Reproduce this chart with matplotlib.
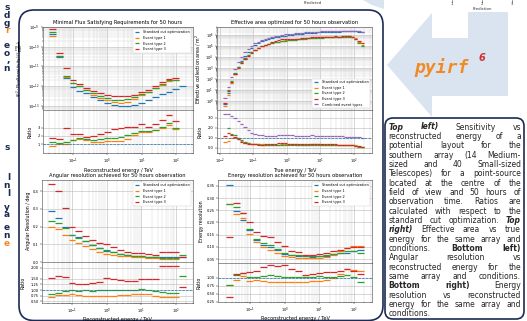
import numpy as np
import matplotlib
matplotlib.use("Agg")
import matplotlib.pyplot as plt
from matplotlib.patches import FancyBboxPatch, Polygon
from matplotlib.ticker import FixedLocator, FormatStrFormatter, LogLocator, NullFormatter

W, H = 527, 321

# log10(E / TeV) bin edges
reco_edges = np.round(np.linspace(-1.7, 2.3, 21), 2)
true_edges = np.round(np.linspace(-1.9, 2.3, 43), 2)

labels = ["Standard cut optimization", "Event type 1", "Event type 2", "Event type 3"]
label_comb = "Combined event types"
nan = np.nan

# sensitivity, log10(E^2 F / erg cm^-2 s^-1)
sens_std = [-9.35, -10.50, -11.58, -12.04, -12.24, -12.38, -12.55, -12.72, -12.86, -12.95,
            -13.00, -13.00, -12.96, -12.84, -12.70, -12.56, -12.42, -12.28, -12.16, -12.02]
sens_t1 = [-9.45, -10.48, -11.56, -11.87, -12.02, -12.20, -12.45, -12.62, -12.72, -12.82,
           -12.85, -12.80, -12.64, -12.45, -12.30, -12.12, -11.95, -11.75, -11.70, nan]
sens_t2 = [-9.25, -10.45, -11.50, -11.85, -12.00, -12.18, -12.38, -12.52, -12.62, -12.70,
           -12.72, -12.68, -12.58, -12.42, -12.28, -12.12, -11.92, -11.72, -11.68, nan]
sens_t3 = [-9.10, -10.30, -11.10, -11.70, -11.90, -12.12, -12.26, -12.38, -12.46, -12.50,
           -12.52, -12.50, -12.46, -12.30, -12.20, -12.02, -11.82, -11.62, -11.58, nan]

# effective area, log10(A / m^2)
aeff_std = [-0.25, 0.70, 1.65, 2.45, 3.10, 3.65, 4.10, 4.50, 4.82, 5.08,
            5.28, 5.43, 5.55, 5.64, 5.72, 5.79, 5.85, 5.90, 5.95, 5.99,
            6.03, 6.06, 6.09, 6.12, 6.15, 6.17, 6.19, 6.21, 6.23, 6.25,
            6.27, 6.28, 6.30, 6.31, 6.32, 6.33, 6.34, 6.35, 6.35, 6.34,
            6.32, 6.30]
aeff_t1 = [-0.47, 0.55, 1.65, 2.47, 3.05, 3.50, 3.84, 4.17, 4.44, 4.67,
           4.85, 4.99, 5.09, 5.18, 5.26, 5.33, 5.39, 5.46, 5.51, 5.55,
           5.59, 5.62, 5.63, 5.66, 5.69, 5.71, 5.75, 5.77, 5.79, 5.79,
           5.81, 5.82, 5.84, 5.85, 5.86, 5.86, 5.87, 5.87, 5.86, 5.74,
           5.40, 5.08]
aeff_t2 = [nan, 1.00, 1.81, 2.56, 3.12, 3.55, 3.89, 4.20, 4.46, 4.68,
           4.85, 4.97, 5.08, 5.17, 5.26, 5.33, 5.38, 5.43, 5.49, 5.53,
           5.57, 5.59, 5.61, 5.64, 5.68, 5.70, 5.72, 5.73, 5.75, 5.77,
           5.79, 5.80, 5.83, 5.84, 5.85, 5.85, 5.86, 5.86, 5.84, 5.68,
           5.32, 5.00]
aeff_t3 = [-0.17, 0.88, 1.76, 2.49, 3.03, 3.44, 3.80, 4.12, 4.40, 4.64,
           4.82, 4.97, 5.11, 5.22, 5.34, 5.44, 5.53, 5.60, 5.63, 5.64,
           5.65, 5.66, 5.67, 5.69, 5.73, 5.77, 5.81, 5.81, 5.81, 5.82,
           5.83, 5.84, 5.86, 5.87, 5.86, 5.87, 5.87, 5.87, 5.83, 5.64,
           5.50, 5.30]
aeff_comb = [0.28, 1.23, 2.16, 2.93, 3.53, 4.03, 4.42, 4.76, 5.01, 5.23,
             5.39, 5.53, 5.64, 5.72, 5.80, 5.88, 5.95, 6.01, 6.08, 6.10,
             6.13, 6.15, 6.17, 6.20, 6.23, 6.26, 6.29, 6.30, 6.31, 6.33,
             6.34, 6.35, 6.38, 6.40, 6.40, 6.40, 6.40, 6.41, 6.41, 6.39,
             6.36, 6.30]

# angular resolution / deg
angres_std = [0.286, 0.249, 0.195, 0.153, 0.140, 0.118, 0.097, 0.080, 0.064, 0.055,
              0.046, 0.040, 0.036, 0.032, 0.030, 0.028, 0.027, 0.026, 0.026, 0.026]
angres_t1 = [0.200, 0.188, 0.154, 0.126, 0.107, 0.088, 0.072, 0.058, 0.046, 0.041,
             0.035, 0.031, 0.029, 0.026, 0.024, 0.021, 0.019, 0.018, 0.018, nan]
angres_t2 = [0.233, 0.220, 0.190, 0.150, 0.136, 0.117, 0.094, 0.079, 0.065, 0.056,
             0.046, 0.040, 0.036, 0.033, 0.030, 0.027, 0.025, 0.023, 0.023, 0.042]
angres_t3 = [0.437, 0.400, 0.305, 0.200, 0.177, 0.149, 0.126, 0.107, 0.099, 0.082,
             0.066, 0.056, 0.051, 0.048, 0.045, 0.042, 0.056, 0.054, 0.054, 0.030]

# energy resolution
eres_std = [0.355, 0.246, 0.209, 0.169, 0.130, 0.109, 0.098, 0.086, 0.072, 0.066,
            0.064, 0.061, 0.060, 0.061, 0.064, 0.069, 0.073, 0.075, 0.082, 0.087]
eres_t1 = [0.275, 0.233, 0.219, 0.153, 0.122, 0.099, 0.086, 0.075, 0.062, 0.058,
           0.055, 0.054, 0.055, 0.055, 0.060, 0.068, 0.082, 0.095, 0.102, 0.105]
eres_t2 = [0.275, 0.265, 0.240, 0.175, 0.133, 0.115, 0.106, 0.091, 0.073, 0.067,
           0.065, 0.062, 0.062, 0.064, 0.066, 0.072, 0.077, 0.082, 0.085, 0.077]
eres_t3 = [0.142, 0.278, 0.240, 0.200, 0.159, 0.146, 0.139, 0.118, 0.102, 0.085,
           0.078, 0.067, 0.067, 0.070, 0.075, 0.082, 0.089, 0.095, 0.099, 0.099]

caption = [
    "*Top *left) Sensitivity vs",
    "reconstructed energy of a",
    "potential layout for the",
    "southern array (14 Medium-",
    "sized and 40 Small-sized",
    "Telescopes) for a point-source",
    "located at the centre of the",
    "field of view and 50 hours of",
    "observation time. Ratios are",
    "calculated with respect to the",
    "standard cut optimization. *Top",
    "*right) Effective area vs true",
    "energy for the same array and",
    "conditions. #Bottom #left)",
    "Angular resolution vs",
    "reconstructed energy for the",
    "same array and conditions.",
    "#Bottom #right) Energy",
    "resolution vs reconstructed",
    "energy for the same array and",
    "conditions.",
]

# line endings of the neighbouring column that is cut by the page edge
side_chars = ["s", "d", "g", "r", "e", "o", ",", "n", "s", "l", "n", "l", "y", "a", "e", "n", "e"]
side_y = [8, 15.5, 23, 30.5, 46, 53.5, 61, 68.5, 147, 178, 185.5, 193, 207, 214.5, 228, 235.5, 243]
side_orange = {3, 16}

NAVY = "#1c2b55"
colors = ["C0", "C1", "C2", "C3", "C4"]

fig = plt.figure(figsize=(W / 100, H / 100), dpi=100)
bg = fig.add_axes([0, 0, 1, 1])
bg.set_xlim(0, W)
bg.set_ylim(H, 0)
bg.axis("off")


def rect(x0, y0, x1, y1):
    return [x0 / W, 1 - y1 / H, (x1 - x0) / W, (y1 - y0) / H]


def make_panel(x0, x1, ytop, ysplit, ybot, xlim):
    ax = fig.add_axes(rect(x0, ytop, x1, ysplit))
    rax = fig.add_axes(rect(x0, ysplit, x1, ybot))
    for a in (ax, rax):
        a.set_xscale("log")
        a.set_xlim(10 ** xlim[0], 10 ** xlim[1])
        a.tick_params(which="both", labelsize=2.6, length=1.5, width=0.3, pad=1)
        a.tick_params(which="minor", length=0.8)
        for s in a.spines.values():
            s.set_linewidth(0.4)
            s.set_color("#444444")
        a.grid(which="major", color="#b8b8b8", lw=0.4)
        a.grid(which="minor", axis="x", color="#d0d0d0", lw=0.3)
        a.xaxis.set_major_locator(LogLocator(10))
    ax.tick_params(labelbottom=False)
    rax.set_ylabel("Ratio", fontsize=3.4, labelpad=3.5)
    return ax, rax


def steps(ax, edges, vals, color, label=None, lw=0.9):
    lo = 10.0 ** edges[:-1]
    hi = 10.0 ** edges[1:]
    c = np.sqrt(lo * hi)
    return ax.errorbar(c, vals, xerr=[c - lo, hi - c], ls="none", color=color,
                       elinewidth=lw, capsize=0, label=label)


def draw(ax, rax, edges, std, others, log=False, extra=None):
    std = np.asarray(std, dtype=float)
    base = 10 ** std if log else std
    steps(ax, edges, base, colors[0], labels[0])
    for i, s in enumerate(others):
        v = np.asarray(s, dtype=float)
        v = 10 ** v if log else v
        steps(ax, edges, v, colors[i + 1], labels[i + 1])
        steps(rax, edges, v / base, colors[i + 1])
    if extra is not None:
        v = 10 ** np.asarray(extra, dtype=float)
        steps(ax, edges, v, colors[4], label_comb)
        steps(rax, edges, v / base, colors[4])
    rax.axhline(1, color="C0", ls="--", lw=0.5)


def legend(ax, loc):
    leg = ax.legend(loc=loc, fontsize=2.5, handlelength=1.6, borderpad=0.5,
                    labelspacing=0.45, framealpha=1, edgecolor="#cccccc", fancybox=True)
    leg.get_frame().set_linewidth(0.3)


# top left: sensitivity
ax, rax = make_panel(43, 193, 27, 110, 153, (-1.875, 2.5))
draw(ax, rax, reco_edges, sens_std, [sens_t1, sens_t2, sens_t3], log=True)
ax.set_yscale("log")
ax.set_ylim(10 ** -13.22, 10 ** -9.0)
ax.grid(which="minor", axis="y", color="#d0d0d0", lw=0.3)
ax.set_title("Minimal Flux Satisfying Requirements for 50 hours", fontsize=3.7, pad=2)
ax.set_ylabel(r"$(E^2 \cdot \mathrm{Flux Sensitivity}) /$ ($\mathrm{\frac{erg}{s\,cm^{2}}}$)",
              fontsize=3.0, labelpad=1.5)
legend(ax, "upper right")
rax.set_ylim(-0.1, 5.2)
rax.yaxis.set_major_locator(FixedLocator([1, 2, 3]))
rax.set_xlabel("Reconstructed energy / TeV", fontsize=3.6, labelpad=1.5)

# top right: effective area
ax, rax = make_panel(217, 372, 27, 110, 153, (-2.09, 2.54))
draw(ax, rax, true_edges, aeff_std, [aeff_t1, aeff_t2, aeff_t3], log=True, extra=aeff_comb)
ax.set_yscale("log")
ax.set_ylim(10 ** -0.82, 10 ** 6.73)
ax.yaxis.set_major_locator(LogLocator(10, numticks=12))
ax.yaxis.set_minor_formatter(NullFormatter())
ax.grid(which="minor", axis="y", color="#d0d0d0", lw=0.3)
ax.set_title("Effective area optimized for 50 hours observation", fontsize=3.7, pad=2)
ax.set_ylabel(r"Effective collection area / m$^2$", fontsize=3.4, labelpad=1.5)
legend(ax, "lower right")
rax.set_ylim(-0.5, 3.8)
rax.yaxis.set_major_locator(FixedLocator([0, 1, 2, 3]))
rax.yaxis.set_major_formatter(FormatStrFormatter("%.1f"))
rax.set_xlabel("True energy / TeV", fontsize=3.6, labelpad=1.5)

# bottom left: angular resolution
ax, rax = make_panel(42, 193, 180, 262, 303, (-1.865, 2.49))
draw(ax, rax, reco_edges, angres_std, [angres_t1, angres_t2, angres_t3])
ax.set_ylim(0, 0.462)
ax.yaxis.set_major_locator(FixedLocator([0, 0.1, 0.2, 0.3, 0.4]))
ax.yaxis.set_major_formatter(FormatStrFormatter("%.1f"))
ax.set_title("Angular resolution achieved for 50 hours observation", fontsize=3.7, pad=2)
ax.set_ylabel("Angular Resolution / deg", fontsize=3.4, labelpad=1.5)
legend(ax, "upper right")
rax.set_ylim(0.42, 2.25)
rax.yaxis.set_major_locator(FixedLocator([0.5, 0.75, 1.0, 1.25, 1.5, 2.0]))
rax.yaxis.set_major_formatter(FormatStrFormatter("%.2f"))
rax.set_xlabel("Reconstructed energy / TeV", fontsize=3.6, labelpad=0.8)

# bottom right: energy resolution
ax, rax = make_panel(218, 372, 180, 263, 302, (-1.92, 2.52))
draw(ax, rax, reco_edges, eres_std, [eres_t1, eres_t2, eres_t3])
ax.set_ylim(0.034, 0.374)
ax.yaxis.set_major_locator(FixedLocator([0.05, 0.10, 0.15, 0.20, 0.25, 0.30, 0.35]))
ax.yaxis.set_major_formatter(FormatStrFormatter("%.2f"))
ax.set_title("Energy resolution achieved for 50 hours observation", fontsize=3.7, pad=2)
ax.set_ylabel("Energy resolution", fontsize=3.4, labelpad=1.5)
legend(ax, "upper right")
rax.set_ylim(0.24, 1.47)
rax.yaxis.set_major_locator(FixedLocator([0.25, 0.5, 0.75, 1.0]))
rax.yaxis.set_major_formatter(FormatStrFormatter("%.2f"))
rax.set_xlabel("Reconstructed energy / TeV", fontsize=3.6, labelpad=0.8)

# frame around the four panels
bg.add_patch(FancyBboxPatch((19, 10), 364, 310.5, boxstyle="round,pad=0,rounding_size=15",
                            fc="none", ec=NAVY, lw=1.2))

# arrow from the classifier output towards the plots
bg.add_patch(Polygon([(387, 65), (432, 13), (432, 38), (468, 38), (468, 12), (508, 12),
                      (508, 96), (432, 96), (432, 117)], closed=True, fc="#dae4f1", ec="none"))
bg.add_patch(Polygon([(363, 0), (384, 0), (384, 9), (372, 5)], closed=True, fc="#dae4f1", ec="none"))

bg.text(442, 68, "pyirf", fontsize=13, family="DejaVu Sans Mono", weight="bold",
        style="italic", color="#f28a24", ha="center", va="center")
bg.text(479, 58, "6", fontsize=7, family="DejaVu Sans", weight="bold",
        style="italic", color="#d2322d", ha="left", va="center")

# confusion-matrix axis labels peeking in from above
bg.text(313, 3.5, "Predicted", fontsize=2.8, ha="center", va="center", color="#333333")
for x, t in zip([452, 482, 512], ["1", "2", "3"]):
    bg.plot([x, x], [0, 1.5], color="#333333", lw=0.4)
    bg.text(x, 4, t, fontsize=2.8, ha="center", va="center", color="#333333")
bg.text(482, 9.5, "Prediction", fontsize=2.8, ha="center", va="center", color="#333333")

# caption box
bg.add_patch(FancyBboxPatch((385, 118), 139, 201, boxstyle="round,pad=0,rounding_size=8",
                            fc="white", ec=NAVY, lw=1.2))

renderer = fig.canvas.get_renderer()
cx0, cx1, cy0, cdy = 388.5, 521.0, 129.5, 9.35
for i, line in enumerate(caption):
    y = cy0 + i * cdy
    objs = []
    for word in line.split():
        kw = {}
        if word.startswith("*"):
            word, kw = word[1:], dict(weight="bold", style="italic")
        elif word.startswith("#"):
            word, kw = word[1:], dict(weight="bold")
        objs.append(bg.text(0, y, word, fontsize=5.5, color="#262626", va="baseline", **kw))
    widths = [t.get_window_extent(renderer).width for t in objs]
    if i == len(caption) - 1 or len(objs) == 1:
        gap = 2.0
    else:
        gap = (cx1 - cx0 - sum(widths)) / (len(objs) - 1)
    x = cx0
    for t, w in zip(objs, widths):
        t.set_x(x)
        x += w + gap

for i, (ch, y) in enumerate(zip(side_chars, side_y)):
    col = "#f28a24" if i in side_orange else NAVY
    bg.text(10, y, ch, fontsize=6.5, weight="bold", color=col, ha="right", va="center")

fig.savefig("out.png", dpi=100)
